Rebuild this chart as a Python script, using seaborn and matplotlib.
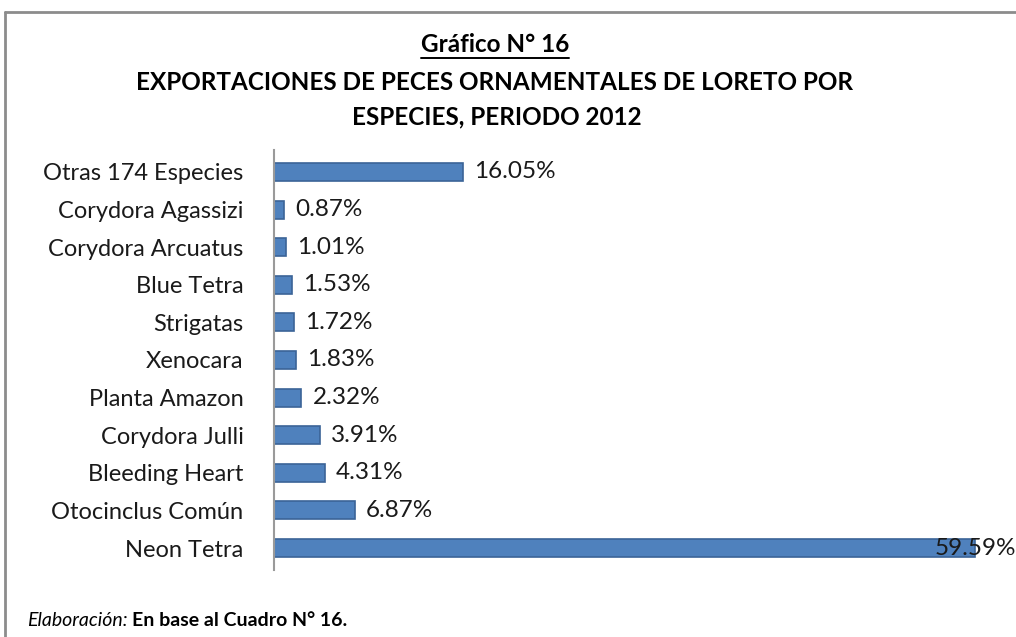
import matplotlib
matplotlib.use("Agg")
import matplotlib.pyplot as plt
import seaborn as sns
import pandas as pd
from matplotlib.lines import Line2D

categories = ["Otras 174 Especies", "Corydora Agassizi", "Corydora Arcuatus", "Blue Tetra",
              "Strigatas", "Xenocara", "Planta Amazon", "Corydora Julli", "Bleeding Heart",
              "Otocinclus Común", "Neon Tetra"]
values = [16.05, 0.87, 1.01, 1.53, 1.72, 1.83, 2.32, 3.91, 4.31, 6.87, 59.59]
value_labels = ["16.05%", "0.87%", "1.01%", "1.53%", "1.72%", "1.83%", "2.32%", "3.91%",
                "4.31%", "6.87%", "59.59%"]

sns.set_theme(style="white")
plt.rcParams["font.family"] = ["Lato", "DejaVu Sans"]

df = pd.DataFrame({"especie": categories, "pct": values})

W, H = 1016, 637
fig = plt.figure(figsize=(W / 100, H / 100), dpi=100)
fig.patch.set_facecolor("white")

# outer frame (top and left visible)
fig.add_artist(Line2D([5 / W, 1.0], [1 - 12 / H, 1 - 12 / H], transform=fig.transFigure,
                      color="#8c8c8c", lw=2))
fig.add_artist(Line2D([5 / W, 5 / W], [0, 1 - 12 / H], transform=fig.transFigure,
                      color="#8c8c8c", lw=2))

ax = fig.add_axes([274 / W, 1 - 570 / H, (W - 274) / W, (570 - 150) / H])
sns.barplot(data=df, x="pct", y="especie", orient="h", color="#4F81BD", width=0.48,
            edgecolor="#3B6497", linewidth=1.2, saturation=1, ax=ax)

xmax = 742 / (701 / 59.59)
ax.set_xlim(0, xmax)
ax.set_ylim(10.585, -0.585)
ax.set_xlabel("")
ax.set_ylabel("")
ax.set_xticks([])
for s in ["top", "right", "bottom"]:
    ax.spines[s].set_visible(False)
ax.spines["left"].set_color("#9a9a9a")
ax.spines["left"].set_linewidth(1.5)
ax.tick_params(axis="y", length=0, pad=22, labelsize=17, labelcolor="#1a1a1a")

for i, (v, lab) in enumerate(zip(values, value_labels)):
    if v > 50:
        ax.text(xmax, i, lab, ha="right", va="center", fontsize=17.5, color="#1a1a1a")
    else:
        ax.annotate(lab, (v, i), xytext=(8, 0), textcoords="offset points",
                    ha="left", va="center", fontsize=17.5, color="#1a1a1a")

t1 = fig.text(495 / W, 1 - 45 / H, "Gráfico N° 16", ha="center", va="center",
              fontsize=17.5, fontweight="bold", color="black")
fig.text(495 / W, 1 - 82 / H, "EXPORTACIONES DE PECES ORNAMENTALES DE LORETO POR",
         ha="center", va="center", fontsize=17.5, fontweight="bold", color="black")
fig.text(497 / W, 1 - 117 / H, "ESPECIES, PERIODO 2012",
         ha="center", va="center", fontsize=17.5, fontweight="bold", color="black")

t = fig.text(27 / W, 1 - 621 / H, "Elaboración:", ha="left", va="center", fontsize=14,
             fontstyle="italic", color="black")
fig.canvas.draw()
bb1 = t1.get_window_extent()
fig.add_artist(Line2D([bb1.x0 / W, bb1.x1 / W], [1 - 58 / H, 1 - 58 / H],
                      transform=fig.transFigure, color="black", lw=1.4))
bb = t.get_window_extent()
fig.text((bb.x1 + 4) / W, 1 - 621 / H, "En base al Cuadro N° 16.", ha="left", va="center",
         fontsize=14, fontweight="bold", color="black")

fig.savefig("out.png", dpi=100)
